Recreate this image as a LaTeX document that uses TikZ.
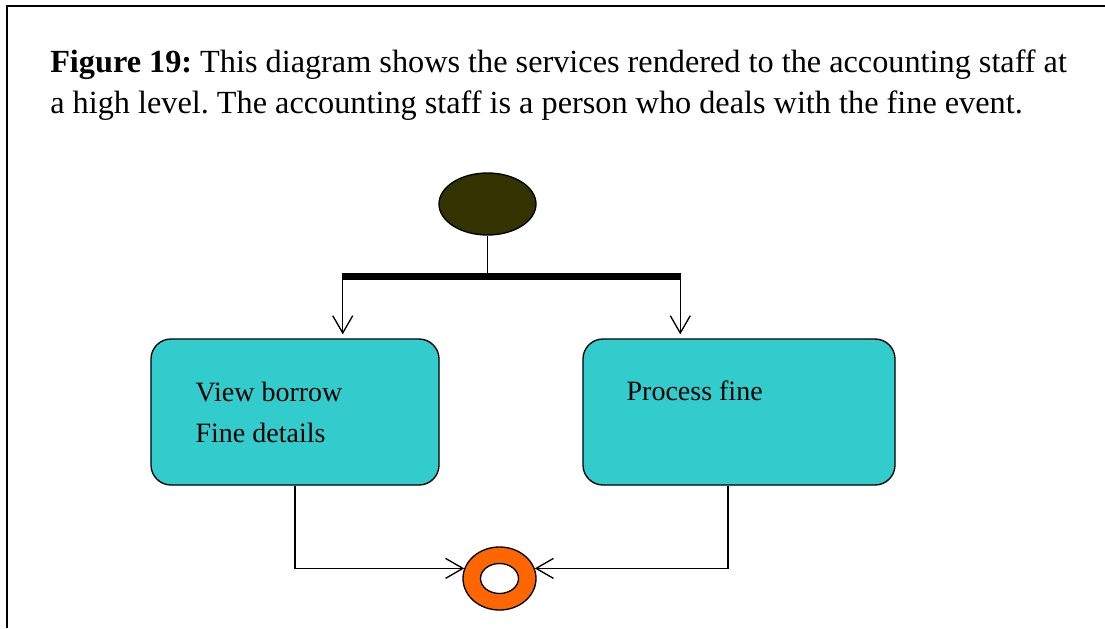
\documentclass[tikz,border=0pt]{standalone}
\usepackage{fontspec}
\setmainfont{Liberation Serif}
\usetikzlibrary{shapes.geometric,arrows.meta,calc}
\definecolor{startcol}{HTML}{333300}
\definecolor{actcol}{HTML}{33CCCC}
\definecolor{endcol}{HTML}{FF6600}
\frenchspacing

\begin{document}
\begin{tikzpicture}[x=0.75pt, y=-0.75pt, >={Straight Barb[length=13pt,width=15pt]}]
    \tikzstyle{every node} = [font=\fontsize{21}{30.75}\selectfont]
    \tikzstyle{activity} = [draw, fill=actcol, rounded corners=15pt, line width=1pt, minimum height=109.5pt, inner sep=0pt]
    \tikzstyle{flow} = [line width=1pt]

    \useasboundingbox (0,0) rectangle (1105,628);
    % frame round the figure
    \draw[line width=1.5pt] (7,628) -- (7,6) -- (1105,6);

    \node (caption) [anchor=base west, align=left, inner sep=0pt, font=\fontsize{24.2}{30.75}\selectfont] at (50,113)
        {\textbf{Figure 19:} This diagram shows the services rendered to the accounting staff at\\
         a high level. The accounting staff is a person who deals with the fine event.};

    \node (start) [ellipse, draw, fill=startcol, line width=1pt, minimum width=72.75pt, minimum height=46.5pt, inner sep=0pt] at (487.5,204) {};
    \node (fork) [rectangle, fill=black, minimum width=252.75pt, minimum height=5.25pt, inner sep=0pt] at (511.5,276.5) {};

    \node (viewfine) [activity, minimum width=216pt] at (295,412) {};
    \node (procfine) [activity, minimum width=234pt] at (739,412) {};
    \node (viewtext) [anchor=base west, align=left, inner sep=0pt] at ([shift={(45,104)}]viewfine.north west) {View borrow\\Fine details};
    \node (proctext) [anchor=base west, inner sep=0pt] at ([shift={(44,62)}]procfine.north west) {Process fine};

    \node (end) [ellipse, draw, fill=endcol, line width=1pt, minimum width=54.75pt, minimum height=47.25pt, inner sep=0pt] at (499.5,578.5) {};
    \node (endhole) [ellipse, draw, fill=white, line width=1pt, minimum width=28.5pt, minimum height=22.5pt, inner sep=0pt] at (end.center) {};

    \draw [flow] (start) -- (start |- fork.north);
    \draw [flow, ->, shorten >=3pt] (fork.north west) -- (fork.north west |- viewfine.north);
    \draw [flow, ->, shorten >=3pt] (fork.north east) -- (fork.north east |- procfine.north);
    \draw [flow, ->] (viewfine.south) |- (end.164);
    \draw [flow, ->] ([xshift=-8.25pt]procfine.south) |- (end.16);
\end{tikzpicture}
\end{document}
